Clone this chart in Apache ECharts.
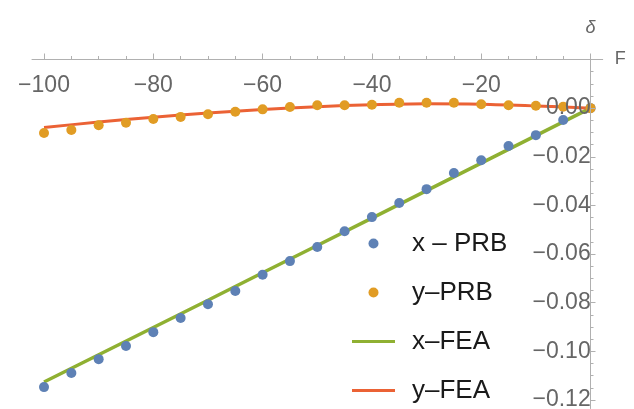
<!DOCTYPE html>
<html>
<head>
<meta charset="utf-8">
<script src="https://cdn.jsdelivr.net/npm/echarts@6/dist/echarts.min.js"></script>
<style>html,body{margin:0;padding:0;background:#fff}#c{width:634px;height:409px}</style>
</head>
<body>
<div id="c"></div>
<script>
// ---- data ----
const F = [-100,-95,-90,-85,-80,-75,-70,-65,-60,-55,-50,-45,-40,-35,-30,-25,-20,-15,-10,-5,0];
const xPRB = [-0.1147,-0.1089,-0.1032,-0.0978,-0.0921,-0.0863,-0.0806,-0.0752,-0.0685,-0.0629,-0.0571,-0.0506,-0.0448,-0.0390,-0.0333,-0.0267,-0.0214,-0.0156,-0.0111,-0.0049,0];
const yPRB = [-0.0102,-0.0090,-0.0070,-0.0060,-0.0045,-0.0036,-0.0025,-0.0015,-0.0005,0.0005,0.0012,0.0012,0.0014,0.0022,0.0022,0.0022,0.0016,0.0012,0.0010,0.0006,0];
const F_FEA = [-100,-90,-80,-70,-60,-50,-40,-30,-20,-10,0];
const xFEA = [-0.1126,-0.1014,-0.0902,-0.0790,-0.0677,-0.0565,-0.0452,-0.0339,-0.0226,-0.0113,0];
const yFEA = [-0.0080,-0.0057,-0.0037,-0.0020,-0.0006,0.0006,0.0014,0.0018,0.0016,0.0009,0];
const seriesNames = ['x – PRB','y–PRB','x–FEA','y–FEA'];
const xLabelValues = [-100,-80,-60,-40,-20];
const xMajorTicks = [-100,-80,-60,-40,-20,0];
const xMinorTicks = [-100,-95,-90,-85,-80,-75,-70,-65,-60,-55,-50,-45,-40,-35,-30,-25,-20,-15,-10,-5,0];
const yLabelValues = [0,-0.02,-0.04,-0.06,-0.08,-0.10,-0.12];
const yMinorTicks = [0.015,0.01,0.005,0,-0.005,-0.01,-0.015,-0.02,-0.025,-0.03,-0.035,-0.04,-0.045,-0.05,-0.055,-0.06,-0.065,-0.07,-0.075,-0.08,-0.085,-0.09,-0.095,-0.1,-0.105,-0.11,-0.115,-0.12];

const pairs = (xs, ys) => xs.map((x, i) => [x, ys[i]]);
const AX = '#b0b0b0', TXT = '#666666', FONT = '"Liberation Sans", Arial, sans-serif';
const X_MIN = -102.2, X_MAX = 2.23, Y_MIN = -0.1235, Y_MAX = 0.02;
const LINE_ICON = 'path://M0,0 L43,0 L43,3 L0,3 Z';

const chart = echarts.init(document.getElementById('c'), null, {renderer: 'canvas'});
chart.setOption({
  animation: false,
  backgroundColor: '#ffffff',
  textStyle: {fontFamily: FONT},
  grid: {left: 32, right: 31.3, top: 59.5, bottom: 0.5, containLabel: false, outerBoundsMode: 'none'},
  xAxis: [
    {
      type: 'value', position: 'top', min: X_MIN, max: X_MAX,
      name: 'F', nameLocation: 'end', nameGap: 12,
      nameTextStyle: {color: TXT, fontSize: 18, fontFamily: FONT},
      axisLine: {show: true, onZero: false, lineStyle: {color: AX, width: 1}},
      axisTick: {show: true, inside: false, length: 6, customValues: xMajorTicks, lineStyle: {color: AX}},
      axisLabel: {show: true, inside: true, margin: 15, customValues: xLabelValues, color: TXT, fontSize: 23, fontFamily: FONT,
        formatter: v => '\u2212' + Math.abs(v)},
      splitLine: {show: false}
    },
    {
      type: 'value', position: 'top', min: X_MIN, max: X_MAX,
      axisLine: {show: false, onZero: false},
      axisTick: {show: true, inside: false, length: 3.5, customValues: xMinorTicks, lineStyle: {color: AX}},
      axisLabel: {show: false},
      splitLine: {show: false}
    }
  ],
  yAxis: [
    {
      type: 'value', position: 'right', min: Y_MIN, max: Y_MAX, z: 5,
      name: 'δ', nameLocation: 'end', nameGap: 23,
      nameTextStyle: {color: TXT, fontSize: 18, fontStyle: 'italic', fontFamily: FONT},
      axisLine: {show: true, onZero: true, onZeroAxisIndex: 0, lineStyle: {color: AX, width: 1}},
      axisTick: {show: true, inside: false, length: 5, customValues: yLabelValues, lineStyle: {color: AX}},
      axisLabel: {show: true, inside: true, margin: 12, customValues: yLabelValues, color: TXT, fontSize: 23, fontFamily: FONT,
        formatter: v => (Math.abs(v) < 1e-9 ? '0.00' : '\u2212' + Math.abs(v).toFixed(2))},
      splitLine: {show: false}
    },
    {
      type: 'value', position: 'right', min: Y_MIN, max: Y_MAX,
      axisLine: {show: false, onZero: true, onZeroAxisIndex: 1},
      axisTick: {show: true, inside: false, length: 3, customValues: yMinorTicks, lineStyle: {color: AX}},
      axisLabel: {show: false},
      splitLine: {show: false}
    }
  ],
  legend: {
    type: 'plain', orient: 'vertical', left: 352, top: 230.5, height: 175, padding: 0,
    itemWidth: 43, itemHeight: 10, itemGap: 23,
    textStyle: {color: '#1a1a1a', fontSize: 26, lineHeight: 25, fontFamily: FONT, padding: [0, 0, 0, 12]},
    data: [
      {name: seriesNames[0], icon: 'circle'},
      {name: seriesNames[1], icon: 'circle'},
      {name: seriesNames[2], icon: LINE_ICON},
      {name: seriesNames[3], icon: LINE_ICON}
    ],
    selectedMode: false
  },
  series: [
    {name: seriesNames[2], type: 'line', xAxisIndex: 0, yAxisIndex: 0, data: pairs(F_FEA, xFEA),
      symbol: 'none', smooth: false, z: 2, lineStyle: {color: '#8FB032', width: 3.5}, itemStyle: {color: '#8FB032'}},
    {name: seriesNames[3], type: 'line', xAxisIndex: 0, yAxisIndex: 0, data: pairs(F_FEA, yFEA),
      symbol: 'none', smooth: 0.3, z: 2, lineStyle: {color: '#EB6235', width: 3}, itemStyle: {color: '#EB6235'}},
    {name: seriesNames[0], type: 'scatter', xAxisIndex: 0, yAxisIndex: 0, data: pairs(F, xPRB),
      symbol: 'circle', symbolSize: 10, z: 3, itemStyle: {color: '#5E81B5', opacity: 1}},
    {name: seriesNames[1], type: 'scatter', xAxisIndex: 0, yAxisIndex: 0, data: pairs(F, yPRB),
      symbol: 'circle', symbolSize: 10, z: 3, itemStyle: {color: '#E19C24', opacity: 1}}
  ]
});
</script>
</body>
</html>
